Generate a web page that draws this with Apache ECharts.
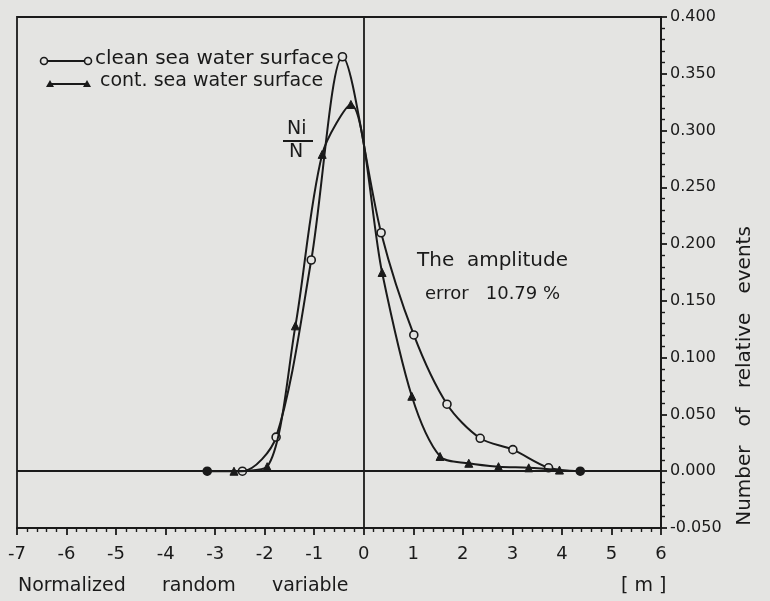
<!DOCTYPE html>
<html>
<head>
<meta charset="utf-8">
<script src="https://cdn.jsdelivr.net/npm/echarts@6/dist/echarts.min.js"></script>
<style>
html,body{margin:0;padding:0;background:#e4e4e2;}
#c{width:770px;height:601px;}
</style>
</head>
<body>
<div id="c"></div>
<script>
// ---- data ----
var cleanX = [-3.16, -2.45, -1.77, -1.06, -0.43, 0.35, 1.01, 1.68, 2.35, 3.01, 3.73, 4.37];
var cleanY = [0.000, 0.000, 0.030, 0.186, 0.365, 0.210, 0.120, 0.059, 0.029, 0.019, 0.003, 0.000];
var contX  = [-2.62, -1.95, -1.38, -0.84, -0.26, 0.37, 0.97, 1.54, 2.12, 2.72, 3.33, 3.95];
var contY  = [0.000, 0.004, 0.128, 0.279, 0.323, 0.175, 0.066, 0.013, 0.007, 0.004, 0.003, 0.001];
var xTicks = [-7, -6, -5, -4, -3, -2, -1, 0, 1, 2, 3, 4, 5, 6];
var yTicks = [-0.05, 0, 0.05, 0.1, 0.15, 0.2, 0.25, 0.3, 0.35, 0.4];
var seriesNames = ['clean sea water surface', 'cont. sea water surface'];

var INK = '#1a1a1a';
var BG = '#e4e4e2';
var FONT = 'DejaVu Sans';

function pairs(xs, ys) {
  return xs.map(function (x, i) { return [x, ys[i]]; });
}
var cleanData = pairs(cleanX, cleanY).map(function (p, i, arr) {
  var filled = (i === 0 || i === arr.length - 1);
  return { value: p, itemStyle: { color: filled ? INK : BG } };
});
var contData = pairs(contX, contY);

var chart = echarts.init(document.getElementById('c'), null, { renderer: 'canvas' });
chart.setOption({
  backgroundColor: BG,
  animation: false,
  textStyle: { fontFamily: FONT, color: INK },
  grid: {
    left: 17, top: 17, right: 109, bottom: 73,
    show: true, borderColor: INK, borderWidth: 1.8, backgroundColor: 'transparent'
  },
  xAxis: {
    type: 'value',
    min: xTicks[0], max: xTicks[xTicks.length - 1], interval: 1,
    position: 'bottom',
    axisLine: { show: true, onZero: false, lineStyle: { color: INK, width: 2 } },
    axisTick: { show: true, inside: false, length: 7, lineStyle: { color: INK, width: 1.8 } },
    minorTick: { show: true, splitNumber: 5, length: 4, lineStyle: { color: INK, width: 1.4 } },
    splitLine: { show: false },
    axisLabel: { fontSize: 18, color: INK, margin: 17, fontFamily: FONT }
  },
  yAxis: {
    type: 'value',
    position: 'right',
    min: yTicks[0], max: yTicks[yTicks.length - 1], interval: 0.05,
    axisLine: { show: true, onZero: false, lineStyle: { color: INK, width: 2 } },
    axisTick: { show: true, inside: false, length: 6, lineStyle: { color: INK, width: 1.8 } },
    minorTick: { show: true, splitNumber: 5, length: 4, lineStyle: { color: INK, width: 1.4 } },
    splitLine: { show: false },
    axisLabel: {
      fontSize: 16, color: INK, margin: 9, fontFamily: FONT,
      formatter: function (v) { return v.toFixed(3); }
    }
  },
  series: [
    {
      name: seriesNames[0],
      type: 'line',
      data: cleanData,
      smooth: 0.3,
      symbol: 'circle',
      symbolSize: 8,
      showAllSymbol: true,
      lineStyle: { color: INK, width: 2 },
      itemStyle: { color: BG, borderColor: INK, borderWidth: 1.6 },
      z: 3,
      markLine: {
        silent: true,
        symbol: 'none',
        label: { show: false },
        lineStyle: { color: INK, width: 1.8, type: 'solid' },
        data: [{ yAxis: 0 }, { xAxis: 0 }]
      }
    },
    {
      name: seriesNames[1],
      type: 'line',
      data: contData,
      smooth: 0.3,
      symbol: 'triangle',
      symbolSize: 8,
      showAllSymbol: true,
      lineStyle: { color: INK, width: 2 },
      itemStyle: { color: INK, borderColor: INK, borderWidth: 1 },
      z: 4
    }
  ],
  graphic: [
    // legend line 1
    { type: 'line', shape: { x1: 47, y1: 61, x2: 84, y2: 61 }, style: { stroke: INK, lineWidth: 2 } },
    { type: 'circle', shape: { cx: 44, cy: 61, r: 3.5 }, style: { fill: BG, stroke: INK, lineWidth: 1.6 } },
    { type: 'circle', shape: { cx: 88, cy: 61, r: 3.5 }, style: { fill: BG, stroke: INK, lineWidth: 1.6 } },
    { type: 'text', left: 95, top: 49, style: { text: seriesNames[0], font: '20px "DejaVu Sans"', fill: INK } },
    // legend line 2
    { type: 'line', shape: { x1: 50, y1: 84, x2: 87, y2: 84 }, style: { stroke: INK, lineWidth: 2 } },
    { type: 'polygon', shape: { points: [[50, 80], [46, 87], [54, 87]] }, style: { fill: INK } },
    { type: 'polygon', shape: { points: [[87, 80], [83, 87], [91, 87]] }, style: { fill: INK } },
    { type: 'text', left: 100, top: 72, style: { text: seriesNames[1], font: '19px "DejaVu Sans"', fill: INK } },
    // Ni / N
    { type: 'text', left: 287, top: 120, style: { text: 'Ni', font: '19px "DejaVu Sans"', fill: INK } },
    { type: 'line', shape: { x1: 283, y1: 141, x2: 313, y2: 141 }, style: { stroke: INK, lineWidth: 2 } },
    { type: 'text', left: 289, top: 143, style: { text: 'N', font: '19px "DejaVu Sans"', fill: INK } },
    // annotation
    { type: 'text', left: 417, top: 251, style: { text: 'The  amplitude', font: '20px "DejaVu Sans"', fill: INK } },
    { type: 'text', left: 425, top: 285, style: { text: 'error   10.79 %', font: '18px "DejaVu Sans"', fill: INK } },
    // axis names
    { type: 'text', left: 18, top: 577, style: { text: 'Normalized      random      variable', font: '19px "DejaVu Sans"', fill: INK } },
    { type: 'text', left: 621, top: 577, style: { text: '[ m ]', font: '19px "DejaVu Sans"', fill: INK } },
    {
      type: 'text', x: 745, y: 376, rotation: Math.PI / 2,
      style: { text: 'Number   of   relative   events', font: '20px "DejaVu Sans"', fill: INK, align: 'center', verticalAlign: 'middle' }
    }
  ]
});
</script>
</body>
</html>
